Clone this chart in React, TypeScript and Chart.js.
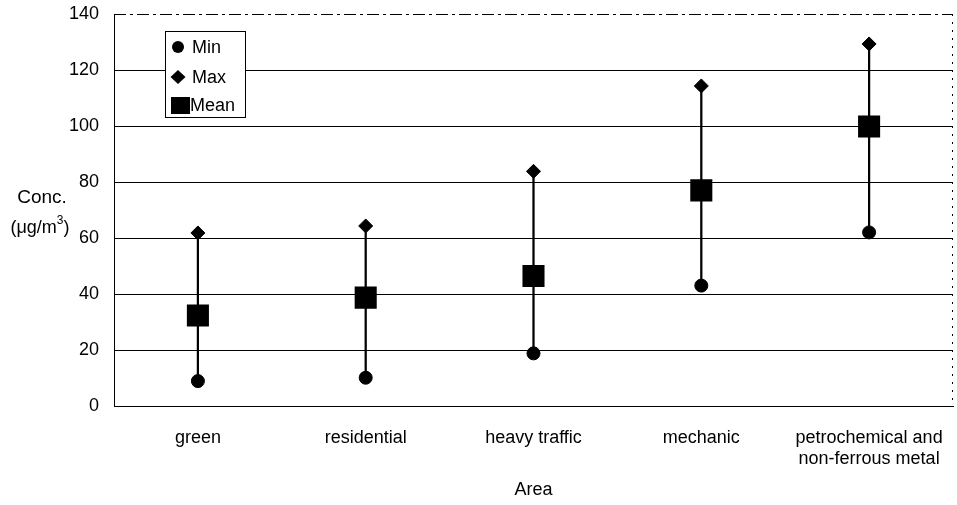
import React, { useEffect, useRef } from "react";
import { Chart, registerables } from "chart.js";

Chart.register(...registerables);

const categories: (string | string[])[] = [
  "green",
  "residential",
  "heavy traffic",
  "mechanic",
  ["petrochemical and", "non-ferrous metal"],
];
const minValues = [8.9, 10.1, 18.8, 43.0, 62.0];
const maxValues = [61.8, 64.3, 83.8, 114.3, 129.3];
const meanValues = [32.3, 38.7, 46.4, 77.0, 99.8];
const yMin = 0;
const yMax = 140;
const yStep = 20;
const legendLabels = ["Min", "Max", "Mean"];
const yTitleLines = ["Conc.", "(\u03bcg/m", "3", ")"];
const xTitle = "Area";

const FONT = "'Liberation Sans', Arial, Helvetica, sans-serif";

const decorPlugin = {
  id: "decor",
  afterDraw(chart: any) {
    const { ctx, chartArea: a } = chart;
    ctx.save();
    ctx.strokeStyle = "#000";
    ctx.lineWidth = 1;
    // top border (dash-dot look)
    const ty = Math.round(a.top) + 0.5;
    ctx.setLineDash([12, 4, 3, 4]);
    ctx.beginPath();
    ctx.moveTo(a.left, ty);
    ctx.lineTo(a.right, ty);
    ctx.stroke();
    // right border dotted
    const rx = Math.round(a.right) - 0.5;
    ctx.setLineDash([2, 6]);
    ctx.beginPath();
    ctx.moveTo(rx, a.top);
    ctx.lineTo(rx, a.bottom);
    ctx.stroke();
    ctx.setLineDash([]);

    // legend box
    const bx = 165.5, by = 31.5, bw = 80, bh = 86;
    ctx.fillStyle = "#fff";
    ctx.fillRect(bx, by, bw, bh);
    ctx.strokeRect(bx, by, bw, bh);
    ctx.fillStyle = "#000";
    ctx.font = `18px ${FONT}`;
    ctx.textBaseline = "middle";
    ctx.textAlign = "left";
    const rows = [47, 77, 105];
    ctx.beginPath();
    ctx.arc(178, rows[0], 6, 0, Math.PI * 2);
    ctx.fill();
    ctx.beginPath();
    ctx.moveTo(178, rows[1] - 7);
    ctx.lineTo(185.5, rows[1]);
    ctx.lineTo(178, rows[1] + 7);
    ctx.lineTo(170.5, rows[1]);
    ctx.closePath();
    ctx.fill();
    ctx.fillRect(171, rows[2] - 8, 19, 17);
    ctx.fillText(legendLabels[0], 192, rows[0] + 1);
    ctx.fillText(legendLabels[1], 192, rows[1] + 1);
    ctx.fillText(legendLabels[2], 190, rows[2] + 1);

    // y axis title (horizontal)
    ctx.font = `19px ${FONT}`;
    ctx.textAlign = "center";
    ctx.fillText(yTitleLines[0], 42, 198);
    const base = yTitleLines[1];
    const sup = yTitleLines[2];
    const close = yTitleLines[3];
    ctx.font = `18px ${FONT}`;
    const w1 = ctx.measureText(base).width;
    ctx.font = `12px ${FONT}`;
    const w2 = ctx.measureText(sup).width;
    ctx.font = `18px ${FONT}`;
    const w3 = ctx.measureText(close).width;
    const total = w1 + w2 + w3;
    const x0 = 40 - total / 2;
    ctx.textAlign = "left";
    ctx.fillText(base, x0, 228);
    ctx.font = `12px ${FONT}`;
    ctx.fillText(sup, x0 + w1, 221);
    ctx.font = `18px ${FONT}`;
    ctx.fillText(close, x0 + w1 + w2, 228);
    ctx.restore();
  },
};

export default function App() {
  const ref = useRef<HTMLCanvasElement | null>(null);
  useEffect(() => {
    if (!ref.current) return;
    const chart = new Chart(ref.current, {
      type: "bar",
      data: {
        labels: categories as any,
        datasets: [
          {
            type: "line",
            label: "Mean",
            data: meanValues,
            showLine: false,
            pointStyle: "rect",
            pointRadius: 15.6,
            pointBackgroundColor: "#000",
            pointBorderColor: "#000",
            pointBorderWidth: 0,
            order: 1,
          } as any,
          {
            type: "line",
            label: "Max",
            data: maxValues,
            showLine: false,
            pointStyle: "rectRot",
            pointRadius: 7,
            pointBackgroundColor: "#000",
            pointBorderColor: "#000",
            pointBorderWidth: 1,
            order: 2,
          } as any,
          {
            type: "line",
            label: "Min",
            data: minValues,
            showLine: false,
            pointStyle: "circle",
            pointRadius: 6.5,
            pointBackgroundColor: "#000",
            pointBorderColor: "#000",
            pointBorderWidth: 1,
            order: 3,
          } as any,
          {
            type: "bar",
            label: "Range",
            data: minValues.map((v, i) => [v, maxValues[i]]) as any,
            backgroundColor: "#000",
            borderWidth: 0,
            barThickness: 1.6,
            order: 10,
          } as any,
        ],
      },
      options: {
        responsive: false,
        animation: false,
        devicePixelRatio: 1,
        layout: { autoPadding: false, padding: { left: 0, top: 14, right: 4, bottom: 0 } },
        plugins: {
          legend: { display: false },
          tooltip: { enabled: false },
        },
        scales: {
          x: {
            grid: { display: false },
            border: { display: true, color: "#000", width: 1 },
            ticks: {
              color: "#000",
              font: { family: FONT, size: 18 },
              padding: 13,
              maxRotation: 0,
              autoSkip: false,
            },
            title: {
              display: true,
              text: xTitle,
              color: "#000",
              font: { family: FONT, size: 18 },
              padding: { top: 0, bottom: 4 },
            },
            afterFit(scale: any) {
              scale.height = 99;
              scale.paddingLeft = 0;
              scale.paddingRight = 0;
            },
          },
          y: {
            min: yMin,
            max: yMax,
            grid: {
              color: (c: any) =>
                c.tick && c.tick.value === yMax ? "rgba(0,0,0,0)" : "#000",
              lineWidth: 1,
              drawTicks: false,
            },
            border: { display: true, color: "#000", width: 1 },
            ticks: {
              stepSize: yStep,
              color: "#000",
              font: { family: FONT, size: 18 },
              padding: 15,
            },
            afterFit(scale: any) {
              scale.width = 114;
              scale.paddingTop = 0;
              scale.paddingBottom = 0;
            },
          },
        },
      },
      plugins: [decorPlugin],
    });
    return () => chart.destroy();
  }, []);
  return (
    <div style={{ position: "absolute", left: 0, top: 0, width: 957, height: 505, background: "#fff" }}>
      <canvas ref={ref} width={957} height={505} />
    </div>
  );
}
